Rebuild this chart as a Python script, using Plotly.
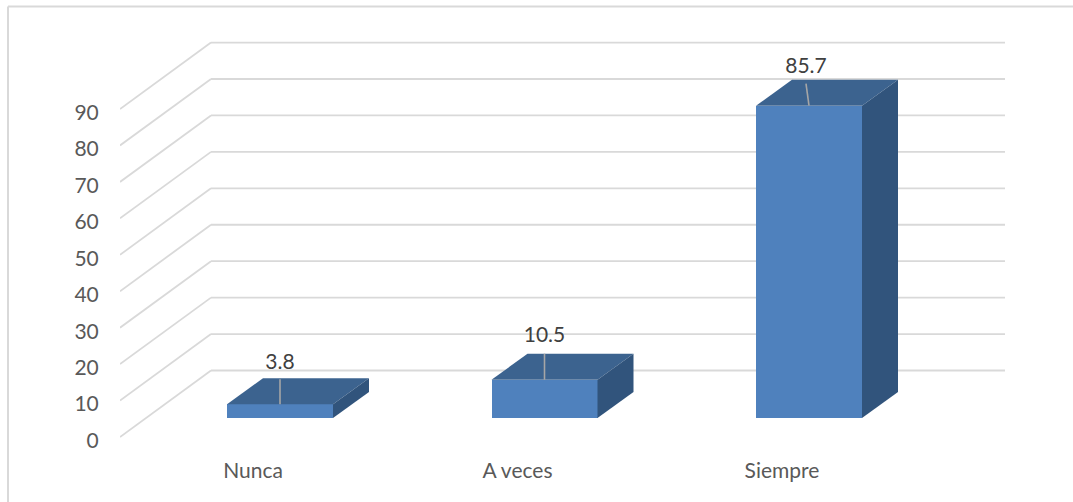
import plotly.graph_objects as go

categories = ["Nunca", "A veces", "Siempre"]
values = [3.8, 10.5, 85.7]
y_ticks = [0, 10, 20, 30, 40, 50, 60, 70, 80, 90]

W, H = 1073, 502
L, R, T, B = 120, 1005, 30, 450
PX_PER_UNIT = 3.644      # vertical pixels per value unit
PX_PER_CAT = 264.5       # horizontal pixels per category
Y0_PX = 440.5            # pixel row of the tick value 0
X0_PX = 253.0            # pixel column of the first category label
DROP = 3.5 / PX_PER_UNIT  # tick labels sit slightly below the start of their gridlines

x_range = [(L - X0_PX) / PX_PER_CAT, (R - X0_PX) / PX_PER_CAT]
y_range = [(Y0_PX - B) / PX_PER_UNIT, (Y0_PX - T) / PX_PER_UNIT]

GRID = "#d9d9d9"
FRONT = "#4f81bd"
TOP = "#3c638f"
SIDE = "#31547c"
TEXT = "#595959"
LABEL = "#404040"
FONT = "Lato, sans-serif"
FS = 21

wall_x = (211 - X0_PX) / PX_PER_CAT
wall_rise = 66.5 / PX_PER_UNIT
bar_dx = 36.0 / PX_PER_CAT
bar_dy = 26.0 / PX_PER_UNIT
bar_w = 106.0 / PX_PER_CAT
bar_shift = 27.0 / PX_PER_CAT
bar_base = 19.0 / PX_PER_UNIT + DROP

fig = go.Figure()

# receding gridlines, kept under the bars
shapes = []
for t in y_ticks:
    shapes.append(dict(type="line", xref="x", yref="y", layer="below",
                       x0=x_range[0], y0=t + DROP, x1=wall_x, y1=t + DROP + wall_rise,
                       line=dict(color=GRID, width=1.8)))
    shapes.append(dict(type="line", xref="x", yref="y", layer="below",
                       x0=wall_x, y0=t + DROP + wall_rise, x1=x_range[1], y1=t + DROP + wall_rise,
                       line=dict(color=GRID, width=1.8)))

# outer frame: only the top and left edges are visible
for x0, y0, x1, y1 in [(8, 6.5, W, 6.5), (8, 6.5, 8, H)]:
    shapes.append(dict(type="line", xref="paper", yref="paper", layer="below",
                       x0=(x0 - L) / (R - L), x1=(x1 - L) / (R - L),
                       y0=(B - y0) / (B - T), y1=(B - y1) / (B - T),
                       line=dict(color=GRID, width=2)))

# front faces
fig.add_trace(go.Bar(x=[i + bar_shift for i in range(3)], y=values, base=bar_base,
                     width=bar_w, marker=dict(color=FRONT, line=dict(width=0)),
                     showlegend=False, hoverinfo="skip"))

for i, v in enumerate(values):
    xl = i + bar_shift - bar_w / 2
    xr = i + bar_shift + bar_w / 2
    y1 = bar_base + v
    fig.add_trace(go.Scatter(x=[xl, xr, xr + bar_dx, xl + bar_dx, xl],
                             y=[y1, y1, y1 + bar_dy, y1 + bar_dy, y1],
                             mode="lines", fill="toself", fillcolor=TOP, line=dict(width=0),
                             hoverinfo="skip", showlegend=False))
    fig.add_trace(go.Scatter(x=[xr, xr + bar_dx, xr + bar_dx, xr, xr],
                             y=[bar_base, bar_base + bar_dy, y1 + bar_dy, y1, bar_base],
                             mode="lines", fill="toself", fillcolor=SIDE, line=dict(width=0),
                             hoverinfo="skip", showlegend=False))

# leader lines and value labels
lean_px = [0.0, 0.0, -3.0]
leader_gap_px = [1.0, 0.0, 4.0]
label_lift_px = [4.0, 6.0, 1.0]
for i, v in enumerate(values):
    xc = i + bar_shift
    y1 = bar_base + v
    xt = xc + lean_px[i] / PX_PER_CAT
    fig.add_trace(go.Scatter(x=[xc, xt], y=[y1, y1 + bar_dy - leader_gap_px[i] / PX_PER_UNIT],
                             mode="lines", line=dict(color="#a6a6a6", width=1.6),
                             hoverinfo="skip", showlegend=False))
    fig.add_trace(go.Scatter(x=[xt], y=[y1 + bar_dy + label_lift_px[i] / PX_PER_UNIT],
                             mode="text", text=[str(v)], textposition="top center",
                             textfont=dict(family=FONT, size=FS, color=LABEL),
                             cliponaxis=False, hoverinfo="skip", showlegend=False))

fig.update_layout(
    width=W, height=H, autosize=False, bargap=0,
    margin=dict(l=L, r=W - R, t=T, b=H - B, pad=0),
    paper_bgcolor="white", plot_bgcolor="rgba(0,0,0,0)",
    font=dict(family=FONT, size=FS, color=TEXT),
    xaxis=dict(range=x_range, tickmode="array", tickvals=[0, 1, 2], ticktext=categories,
               showgrid=False, zeroline=False, showline=False, ticks="outside", ticklen=2,
               tickcolor="rgba(0,0,0,0)", tickfont=dict(family=FONT, size=FS, color=TEXT)),
    yaxis=dict(range=y_range, tickmode="array", tickvals=y_ticks,
               showgrid=False, zeroline=False, showline=False, ticks="outside", ticklen=16,
               tickcolor="rgba(0,0,0,0)", tickfont=dict(family=FONT, size=FS, color=TEXT)),
    shapes=shapes,
)

fig.write_html("out.html", config={"displayModeBar": False},
               post_script="document.body.style.margin='0';document.body.style.overflow='hidden';")
